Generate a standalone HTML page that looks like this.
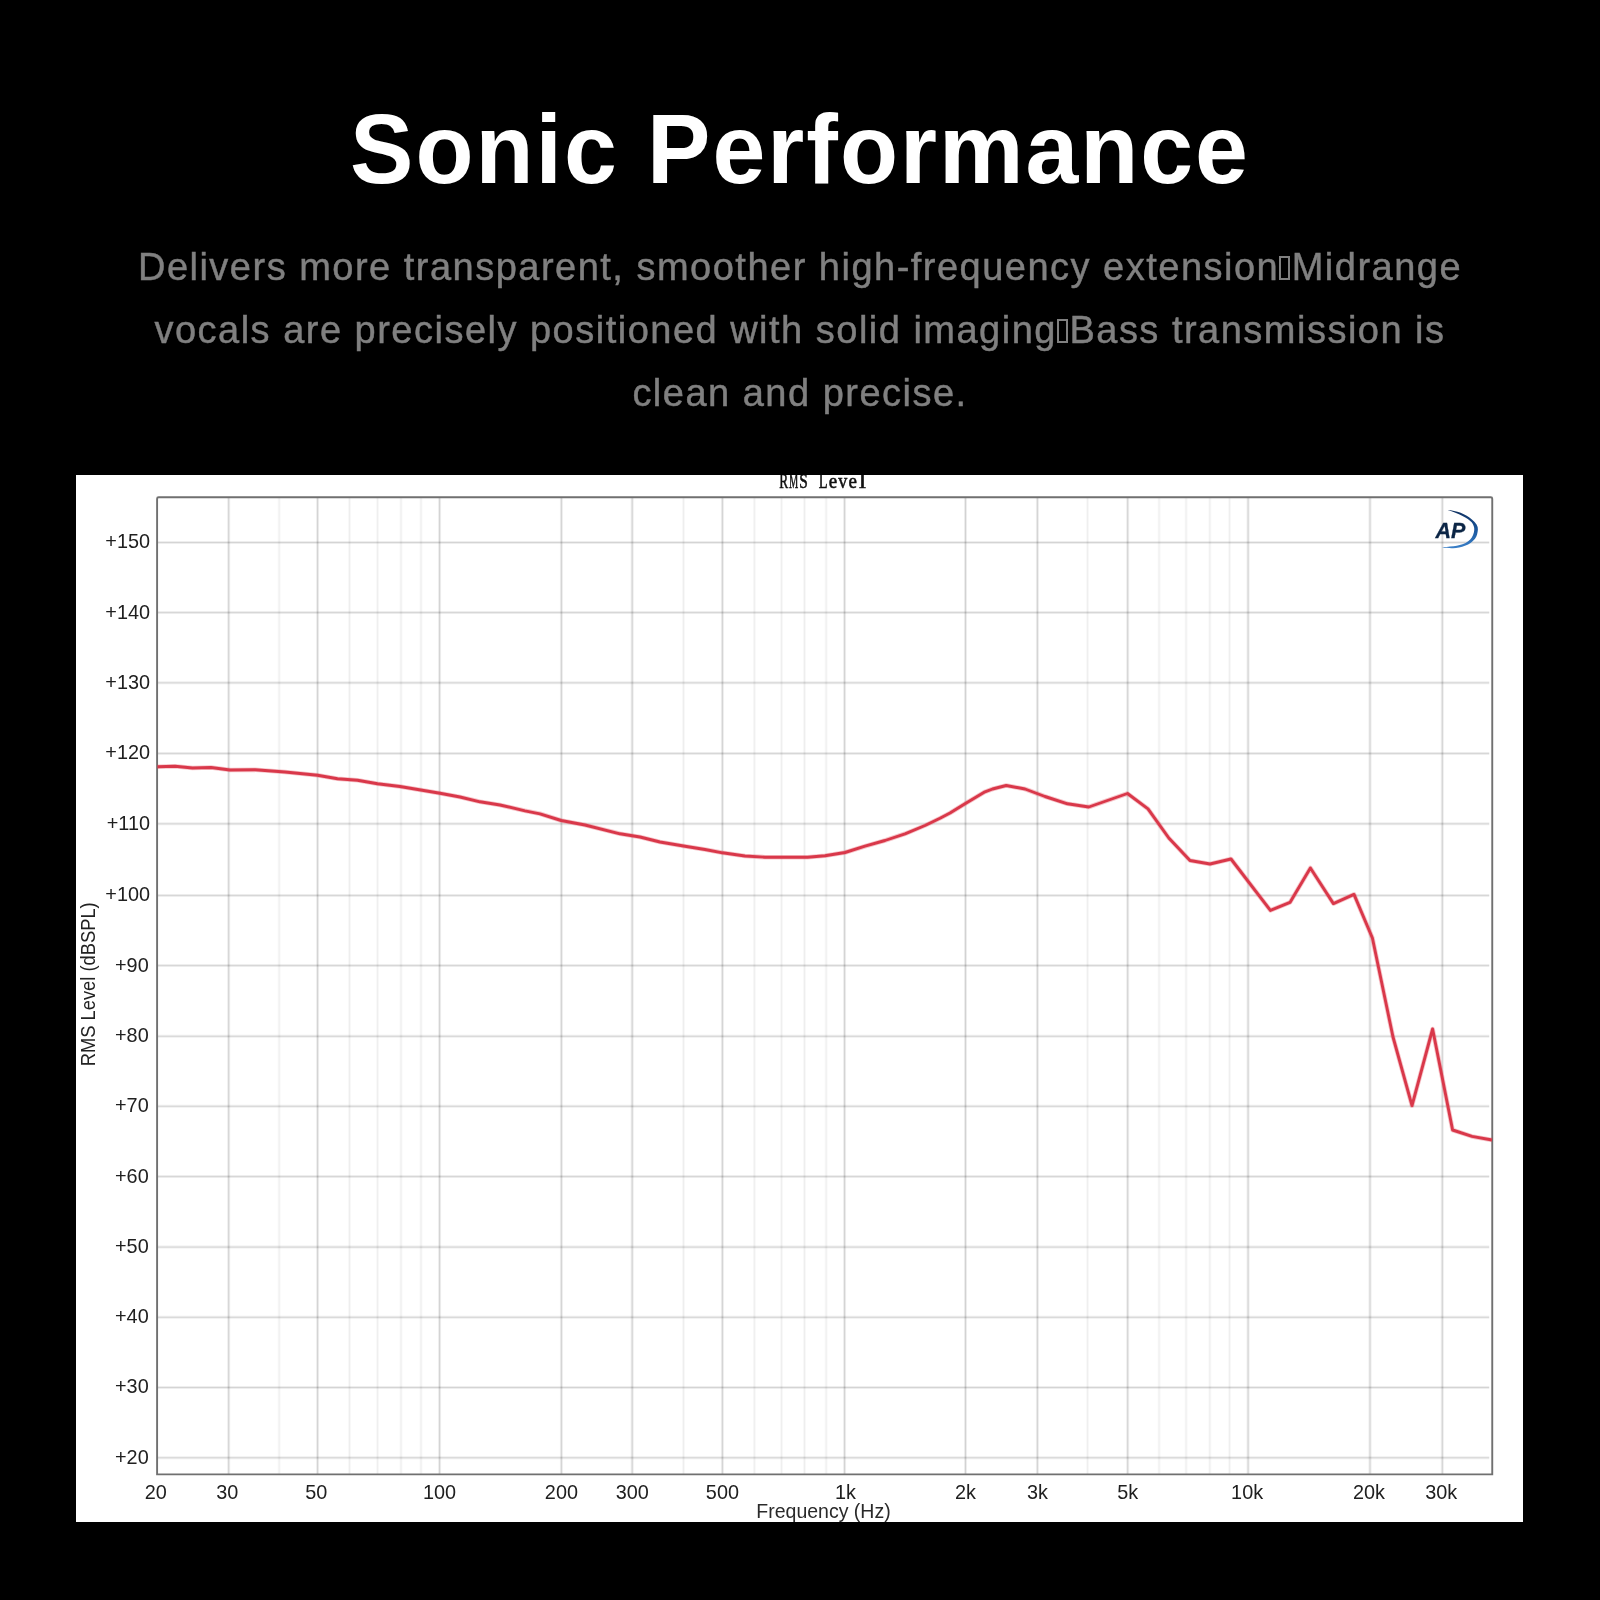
<!DOCTYPE html>
<html><head><meta charset="utf-8"><title>Sonic Performance</title>
<style>
html,body{margin:0;padding:0;background:#000;}
body{width:1600px;height:1600px;position:relative;overflow:hidden;font-family:"Liberation Sans",sans-serif;}
h1{position:absolute;left:0;top:103px;width:1600px;margin:0;text-align:center;color:#fff;font-weight:bold;font-size:95px;line-height:1;letter-spacing:2.0px;white-space:nowrap;transform:scaleY(1.03);transform-origin:50% 85%;}
p.sub{position:absolute;left:0;top:236px;width:1600px;margin:0;text-align:center;color:#808080;font-size:38px;line-height:63px;letter-spacing:1.49px;white-space:nowrap;will-change:transform;-webkit-text-stroke:0.45px #808080;}
.tofu{display:inline-block;width:11px;height:24px;border:2.6px solid #808080;box-sizing:border-box;margin:0 1.5px 0 0;vertical-align:baseline;position:relative;top:0px;}
</style></head><body>
<h1 id="t">Sonic Performance</h1>
<p class="sub"><span id="l1">Delivers more transparent, smoother high-frequency extension<i class="tofu"></i>Midrange</span><br><span id="l2">vocals are precisely positioned with solid imaging<i class="tofu"></i>Bass transmission is</span><br><span id="l3">clean and precise.</span></p>
<svg width="1600" height="1600" viewBox="0 0 1600 1600" style="position:absolute;left:0;top:0;will-change:transform"><rect x="76" y="475" width="1447" height="1047" fill="#ffffff"/><g><line x1="279.20" y1="497.25" x2="279.20" y2="1474.40" stroke="#000" stroke-opacity="0.027" stroke-width="3"/><line x1="279.20" y1="497.25" x2="279.20" y2="1474.40" stroke="#000" stroke-opacity="0.04" stroke-width="1"/><line x1="349.50" y1="497.25" x2="349.50" y2="1474.40" stroke="#000" stroke-opacity="0.027" stroke-width="3"/><line x1="349.50" y1="497.25" x2="349.50" y2="1474.40" stroke="#000" stroke-opacity="0.04" stroke-width="1"/><line x1="377.60" y1="497.25" x2="377.60" y2="1474.40" stroke="#000" stroke-opacity="0.027" stroke-width="3"/><line x1="377.60" y1="497.25" x2="377.60" y2="1474.40" stroke="#000" stroke-opacity="0.04" stroke-width="1"/><line x1="401.00" y1="497.25" x2="401.00" y2="1474.40" stroke="#000" stroke-opacity="0.027" stroke-width="3"/><line x1="401.00" y1="497.25" x2="401.00" y2="1474.40" stroke="#000" stroke-opacity="0.04" stroke-width="1"/><line x1="421.00" y1="497.25" x2="421.00" y2="1474.40" stroke="#000" stroke-opacity="0.027" stroke-width="3"/><line x1="421.00" y1="497.25" x2="421.00" y2="1474.40" stroke="#000" stroke-opacity="0.04" stroke-width="1"/><line x1="683.50" y1="497.25" x2="683.50" y2="1474.40" stroke="#000" stroke-opacity="0.027" stroke-width="3"/><line x1="683.50" y1="497.25" x2="683.50" y2="1474.40" stroke="#000" stroke-opacity="0.04" stroke-width="1"/><line x1="754.40" y1="497.25" x2="754.40" y2="1474.40" stroke="#000" stroke-opacity="0.027" stroke-width="3"/><line x1="754.40" y1="497.25" x2="754.40" y2="1474.40" stroke="#000" stroke-opacity="0.04" stroke-width="1"/><line x1="781.60" y1="497.25" x2="781.60" y2="1474.40" stroke="#000" stroke-opacity="0.027" stroke-width="3"/><line x1="781.60" y1="497.25" x2="781.60" y2="1474.40" stroke="#000" stroke-opacity="0.04" stroke-width="1"/><line x1="804.50" y1="497.25" x2="804.50" y2="1474.40" stroke="#000" stroke-opacity="0.027" stroke-width="3"/><line x1="804.50" y1="497.25" x2="804.50" y2="1474.40" stroke="#000" stroke-opacity="0.04" stroke-width="1"/><line x1="826.20" y1="497.25" x2="826.20" y2="1474.40" stroke="#000" stroke-opacity="0.027" stroke-width="3"/><line x1="826.20" y1="497.25" x2="826.20" y2="1474.40" stroke="#000" stroke-opacity="0.04" stroke-width="1"/><line x1="1087.60" y1="497.25" x2="1087.60" y2="1474.40" stroke="#000" stroke-opacity="0.027" stroke-width="3"/><line x1="1087.60" y1="497.25" x2="1087.60" y2="1474.40" stroke="#000" stroke-opacity="0.04" stroke-width="1"/><line x1="1159.10" y1="497.25" x2="1159.10" y2="1474.40" stroke="#000" stroke-opacity="0.027" stroke-width="3"/><line x1="1159.10" y1="497.25" x2="1159.10" y2="1474.40" stroke="#000" stroke-opacity="0.04" stroke-width="1"/><line x1="1186.10" y1="497.25" x2="1186.10" y2="1474.40" stroke="#000" stroke-opacity="0.027" stroke-width="3"/><line x1="1186.10" y1="497.25" x2="1186.10" y2="1474.40" stroke="#000" stroke-opacity="0.04" stroke-width="1"/><line x1="1209.80" y1="497.25" x2="1209.80" y2="1474.40" stroke="#000" stroke-opacity="0.027" stroke-width="3"/><line x1="1209.80" y1="497.25" x2="1209.80" y2="1474.40" stroke="#000" stroke-opacity="0.04" stroke-width="1"/><line x1="1229.60" y1="497.25" x2="1229.60" y2="1474.40" stroke="#000" stroke-opacity="0.027" stroke-width="3"/><line x1="1229.60" y1="497.25" x2="1229.60" y2="1474.40" stroke="#000" stroke-opacity="0.04" stroke-width="1"/><line x1="228.70" y1="497.25" x2="228.70" y2="1474.40" stroke="#000" stroke-opacity="0.07" stroke-width="3"/><line x1="228.70" y1="497.25" x2="228.70" y2="1474.40" stroke="#000" stroke-opacity="0.115" stroke-width="1"/><line x1="317.60" y1="497.25" x2="317.60" y2="1474.40" stroke="#000" stroke-opacity="0.07" stroke-width="3"/><line x1="317.60" y1="497.25" x2="317.60" y2="1474.40" stroke="#000" stroke-opacity="0.115" stroke-width="1"/><line x1="439.60" y1="497.25" x2="439.60" y2="1474.40" stroke="#000" stroke-opacity="0.07" stroke-width="3"/><line x1="439.60" y1="497.25" x2="439.60" y2="1474.40" stroke="#000" stroke-opacity="0.115" stroke-width="1"/><line x1="561.40" y1="497.25" x2="561.40" y2="1474.40" stroke="#000" stroke-opacity="0.07" stroke-width="3"/><line x1="561.40" y1="497.25" x2="561.40" y2="1474.40" stroke="#000" stroke-opacity="0.115" stroke-width="1"/><line x1="632.20" y1="497.25" x2="632.20" y2="1474.40" stroke="#000" stroke-opacity="0.07" stroke-width="3"/><line x1="632.20" y1="497.25" x2="632.20" y2="1474.40" stroke="#000" stroke-opacity="0.115" stroke-width="1"/><line x1="722.40" y1="497.25" x2="722.40" y2="1474.40" stroke="#000" stroke-opacity="0.07" stroke-width="3"/><line x1="722.40" y1="497.25" x2="722.40" y2="1474.40" stroke="#000" stroke-opacity="0.115" stroke-width="1"/><line x1="844.60" y1="497.25" x2="844.60" y2="1474.40" stroke="#000" stroke-opacity="0.07" stroke-width="3"/><line x1="844.60" y1="497.25" x2="844.60" y2="1474.40" stroke="#000" stroke-opacity="0.115" stroke-width="1"/><line x1="965.50" y1="497.25" x2="965.50" y2="1474.40" stroke="#000" stroke-opacity="0.07" stroke-width="3"/><line x1="965.50" y1="497.25" x2="965.50" y2="1474.40" stroke="#000" stroke-opacity="0.115" stroke-width="1"/><line x1="1037.40" y1="497.25" x2="1037.40" y2="1474.40" stroke="#000" stroke-opacity="0.07" stroke-width="3"/><line x1="1037.40" y1="497.25" x2="1037.40" y2="1474.40" stroke="#000" stroke-opacity="0.115" stroke-width="1"/><line x1="1127.70" y1="497.25" x2="1127.70" y2="1474.40" stroke="#000" stroke-opacity="0.07" stroke-width="3"/><line x1="1127.70" y1="497.25" x2="1127.70" y2="1474.40" stroke="#000" stroke-opacity="0.115" stroke-width="1"/><line x1="1248.10" y1="497.25" x2="1248.10" y2="1474.40" stroke="#000" stroke-opacity="0.07" stroke-width="3"/><line x1="1248.10" y1="497.25" x2="1248.10" y2="1474.40" stroke="#000" stroke-opacity="0.115" stroke-width="1"/><line x1="1370.00" y1="497.25" x2="1370.00" y2="1474.40" stroke="#000" stroke-opacity="0.07" stroke-width="3"/><line x1="1370.00" y1="497.25" x2="1370.00" y2="1474.40" stroke="#000" stroke-opacity="0.115" stroke-width="1"/><line x1="1442.30" y1="497.25" x2="1442.30" y2="1474.40" stroke="#000" stroke-opacity="0.07" stroke-width="3"/><line x1="1442.30" y1="497.25" x2="1442.30" y2="1474.40" stroke="#000" stroke-opacity="0.115" stroke-width="1"/><line x1="157.10" y1="1457.75" x2="1489.25" y2="1457.75" stroke="#000" stroke-opacity="0.065" stroke-width="3"/><line x1="157.10" y1="1457.75" x2="1489.25" y2="1457.75" stroke="#000" stroke-opacity="0.105" stroke-width="1"/><line x1="157.10" y1="1387.50" x2="1489.25" y2="1387.50" stroke="#000" stroke-opacity="0.065" stroke-width="3"/><line x1="157.10" y1="1387.50" x2="1489.25" y2="1387.50" stroke="#000" stroke-opacity="0.105" stroke-width="1"/><line x1="157.10" y1="1317.30" x2="1489.25" y2="1317.30" stroke="#000" stroke-opacity="0.065" stroke-width="3"/><line x1="157.10" y1="1317.30" x2="1489.25" y2="1317.30" stroke="#000" stroke-opacity="0.105" stroke-width="1"/><line x1="157.10" y1="1247.10" x2="1489.25" y2="1247.10" stroke="#000" stroke-opacity="0.065" stroke-width="3"/><line x1="157.10" y1="1247.10" x2="1489.25" y2="1247.10" stroke="#000" stroke-opacity="0.105" stroke-width="1"/><line x1="157.10" y1="1176.60" x2="1489.25" y2="1176.60" stroke="#000" stroke-opacity="0.065" stroke-width="3"/><line x1="157.10" y1="1176.60" x2="1489.25" y2="1176.60" stroke="#000" stroke-opacity="0.105" stroke-width="1"/><line x1="157.10" y1="1106.30" x2="1489.25" y2="1106.30" stroke="#000" stroke-opacity="0.065" stroke-width="3"/><line x1="157.10" y1="1106.30" x2="1489.25" y2="1106.30" stroke="#000" stroke-opacity="0.105" stroke-width="1"/><line x1="157.10" y1="1036.30" x2="1489.25" y2="1036.30" stroke="#000" stroke-opacity="0.065" stroke-width="3"/><line x1="157.10" y1="1036.30" x2="1489.25" y2="1036.30" stroke="#000" stroke-opacity="0.105" stroke-width="1"/><line x1="157.10" y1="965.60" x2="1489.25" y2="965.60" stroke="#000" stroke-opacity="0.065" stroke-width="3"/><line x1="157.10" y1="965.60" x2="1489.25" y2="965.60" stroke="#000" stroke-opacity="0.105" stroke-width="1"/><line x1="157.10" y1="895.40" x2="1489.25" y2="895.40" stroke="#000" stroke-opacity="0.065" stroke-width="3"/><line x1="157.10" y1="895.40" x2="1489.25" y2="895.40" stroke="#000" stroke-opacity="0.105" stroke-width="1"/><line x1="157.10" y1="823.80" x2="1489.25" y2="823.80" stroke="#000" stroke-opacity="0.065" stroke-width="3"/><line x1="157.10" y1="823.80" x2="1489.25" y2="823.80" stroke="#000" stroke-opacity="0.105" stroke-width="1"/><line x1="157.10" y1="753.40" x2="1489.25" y2="753.40" stroke="#000" stroke-opacity="0.065" stroke-width="3"/><line x1="157.10" y1="753.40" x2="1489.25" y2="753.40" stroke="#000" stroke-opacity="0.105" stroke-width="1"/><line x1="157.10" y1="682.80" x2="1489.25" y2="682.80" stroke="#000" stroke-opacity="0.065" stroke-width="3"/><line x1="157.10" y1="682.80" x2="1489.25" y2="682.80" stroke="#000" stroke-opacity="0.105" stroke-width="1"/><line x1="157.10" y1="612.60" x2="1489.25" y2="612.60" stroke="#000" stroke-opacity="0.065" stroke-width="3"/><line x1="157.10" y1="612.60" x2="1489.25" y2="612.60" stroke="#000" stroke-opacity="0.105" stroke-width="1"/><line x1="157.10" y1="542.50" x2="1489.25" y2="542.50" stroke="#000" stroke-opacity="0.065" stroke-width="3"/><line x1="157.10" y1="542.50" x2="1489.25" y2="542.50" stroke="#000" stroke-opacity="0.105" stroke-width="1"/></g><path d="M157.1 1474.4 L157.1 498.75 Q157.1 497.25 158.6 497.25 L1490.75 497.25 Q1492.25 497.25 1492.25 498.75 L1492.25 1474.4 Z" fill="none" stroke="#707070" stroke-width="1.9" stroke-linejoin="miter"/><polyline points="157.5,766.8 175.0,766.2 192.5,768.0 211.0,767.5 230.0,770.0 255.0,769.8 285.0,772.0 317.5,775.2 337.5,778.8 357.5,780.2 377.5,783.8 400.0,786.5 440.0,793.2 460.0,797.0 480.0,801.8 500.0,805.0 525.0,810.8 540.0,813.8 561.2,820.5 585.0,825.0 620.0,833.8 640.0,837.0 660.0,842.0 685.0,846.2 705.0,849.5 722.5,852.8 745.0,856.0 765.0,857.2 807.5,857.2 825.0,855.8 845.0,852.5 865.0,846.2 885.0,840.5 905.0,833.8 925.0,825.5 940.0,818.3 950.0,813.0 965.0,803.8 985.0,791.8 992.5,789.0 1006.2,785.5 1025.0,789.0 1045.0,796.5 1067.5,803.8 1088.8,807.0 1127.5,793.5 1148.0,808.8 1168.8,838.0 1190.0,860.5 1210.0,864.0 1231.0,859.0 1270.4,910.4 1290.0,902.4 1310.4,868.0 1333.4,903.6 1354.0,894.4 1372.4,938.0 1393.0,1037.0 1412.0,1105.6 1432.6,1029.0 1452.6,1130.0 1472.0,1136.4 1492.0,1140.0" fill="none" stroke="#e03a4c" stroke-opacity="0.3" stroke-width="4.6" stroke-linejoin="round" stroke-linecap="butt"/><polyline points="157.5,766.8 175.0,766.2 192.5,768.0 211.0,767.5 230.0,770.0 255.0,769.8 285.0,772.0 317.5,775.2 337.5,778.8 357.5,780.2 377.5,783.8 400.0,786.5 440.0,793.2 460.0,797.0 480.0,801.8 500.0,805.0 525.0,810.8 540.0,813.8 561.2,820.5 585.0,825.0 620.0,833.8 640.0,837.0 660.0,842.0 685.0,846.2 705.0,849.5 722.5,852.8 745.0,856.0 765.0,857.2 807.5,857.2 825.0,855.8 845.0,852.5 865.0,846.2 885.0,840.5 905.0,833.8 925.0,825.5 940.0,818.3 950.0,813.0 965.0,803.8 985.0,791.8 992.5,789.0 1006.2,785.5 1025.0,789.0 1045.0,796.5 1067.5,803.8 1088.8,807.0 1127.5,793.5 1148.0,808.8 1168.8,838.0 1190.0,860.5 1210.0,864.0 1231.0,859.0 1270.4,910.4 1290.0,902.4 1310.4,868.0 1333.4,903.6 1354.0,894.4 1372.4,938.0 1393.0,1037.0 1412.0,1105.6 1432.6,1029.0 1452.6,1130.0 1472.0,1136.4 1492.0,1140.0" fill="none" stroke="#d9384a" stroke-width="2.9" stroke-linejoin="round" stroke-linecap="butt"/><g font-family="Liberation Sans, sans-serif" font-size="21" fill="#202020"><text transform="translate(148.7,1463.65) scale(0.945,1)" text-anchor="end">+20</text><text transform="translate(148.7,1393.40) scale(0.945,1)" text-anchor="end">+30</text><text transform="translate(148.7,1323.20) scale(0.945,1)" text-anchor="end">+40</text><text transform="translate(148.7,1253.00) scale(0.945,1)" text-anchor="end">+50</text><text transform="translate(148.7,1182.50) scale(0.945,1)" text-anchor="end">+60</text><text transform="translate(148.7,1112.20) scale(0.945,1)" text-anchor="end">+70</text><text transform="translate(148.7,1042.20) scale(0.945,1)" text-anchor="end">+80</text><text transform="translate(148.7,971.50) scale(0.945,1)" text-anchor="end">+90</text><text transform="translate(150.0,901.30) scale(0.945,1)" text-anchor="end">+100</text><text transform="translate(150.0,829.70) scale(0.945,1)" text-anchor="end">+110</text><text transform="translate(150.0,759.30) scale(0.945,1)" text-anchor="end">+120</text><text transform="translate(150.0,688.70) scale(0.945,1)" text-anchor="end">+130</text><text transform="translate(150.0,618.50) scale(0.945,1)" text-anchor="end">+140</text><text transform="translate(150.0,548.40) scale(0.945,1)" text-anchor="end">+150</text><text transform="translate(155.70,1498.8) scale(0.945,1)" text-anchor="middle">20</text><text transform="translate(227.30,1498.8) scale(0.945,1)" text-anchor="middle">30</text><text transform="translate(316.20,1498.8) scale(0.945,1)" text-anchor="middle">50</text><text transform="translate(439.60,1498.8) scale(0.945,1)" text-anchor="middle">100</text><text transform="translate(561.40,1498.8) scale(0.945,1)" text-anchor="middle">200</text><text transform="translate(632.20,1498.8) scale(0.945,1)" text-anchor="middle">300</text><text transform="translate(722.40,1498.8) scale(0.945,1)" text-anchor="middle">500</text><text transform="translate(845.40,1498.8) scale(0.945,1)" text-anchor="middle">1k</text><text transform="translate(965.50,1498.8) scale(0.945,1)" text-anchor="middle">2k</text><text transform="translate(1037.40,1498.8) scale(0.945,1)" text-anchor="middle">3k</text><text transform="translate(1127.70,1498.8) scale(0.945,1)" text-anchor="middle">5k</text><text transform="translate(1247.10,1498.8) scale(0.945,1)" text-anchor="middle">10k</text><text transform="translate(1369.00,1498.8) scale(0.945,1)" text-anchor="middle">20k</text><text transform="translate(1441.30,1498.8) scale(0.945,1)" text-anchor="middle">30k</text></g><text x="823.5" y="1518.4" text-anchor="middle" font-family="Liberation Sans, sans-serif" font-size="19.5" fill="#2a2a2a">Frequency (Hz)</text><text transform="translate(95.3,1066.3) rotate(-90)" textLength="164" lengthAdjust="spacingAndGlyphs" font-family="Liberation Sans, sans-serif" font-size="20.3" fill="#222">RMS Level (dBSPL)</text><clipPath id="pc"><rect x="76" y="475" width="1447" height="1047"/></clipPath><g clip-path="url(#pc)" font-family="Liberation Serif, serif" font-size="20" fill="#111" stroke="#111" stroke-width="0.55"><text transform="translate(783.68,488) scale(0.67,1)" text-anchor="middle">R</text><text transform="translate(793.54,488) scale(0.52,1)" text-anchor="middle">M</text><text transform="translate(803.40,488) scale(0.77,1)" text-anchor="middle">S</text><text transform="translate(823.12,488) scale(0.72,1)" text-anchor="middle">L</text><text transform="translate(832.99,488) scale(0.95,1)" text-anchor="middle">e</text><text transform="translate(842.85,488) scale(0.9,1)" text-anchor="middle">v</text><text transform="translate(852.71,488) scale(0.95,1)" text-anchor="middle">e</text><text transform="translate(862.57,488) scale(1.25,1)" text-anchor="middle">l</text></g><g>
<linearGradient id="apg" x1="0" y1="0" x2="0" y2="1"><stop offset="0" stop-color="#0f2f5e"/><stop offset="0.55" stop-color="#1b59a0"/><stop offset="1" stop-color="#3a80c8"/></linearGradient>
<path d="M1447.5 510 C1456 510.4 1466 514 1471.9 519.4 C1476 523 1478.2 526 1477.9 529.5 C1477.6 533 1477 536 1475 538.75 C1472.3 542.3 1469 544.2 1465.6 545.6 C1461 547.5 1457 548.1 1453.1 548.2 C1449 548.3 1446 548 1442 547.3 C1445.5 547.1 1448 546.9 1450 546.6 C1455 546.1 1459 545.5 1462.5 544.2 C1467 542.4 1470 540.3 1471.8 537.4 C1473.8 534 1474.5 531 1474.2 528 C1473.7 525.5 1473 524 1471.9 522.5 C1469.5 520 1466.5 517.8 1462.5 515.9 C1458 513.7 1453 511.5 1447.5 510 Z" fill="url(#apg)"/>
<text x="1435.6" y="538.2" font-family="Liberation Sans, sans-serif" font-weight="bold" font-style="italic" font-size="21.5" letter-spacing="0" fill="#0b2545" stroke="#0b2545" stroke-width="0.3">AP</text>
</g></svg>
</body></html>
